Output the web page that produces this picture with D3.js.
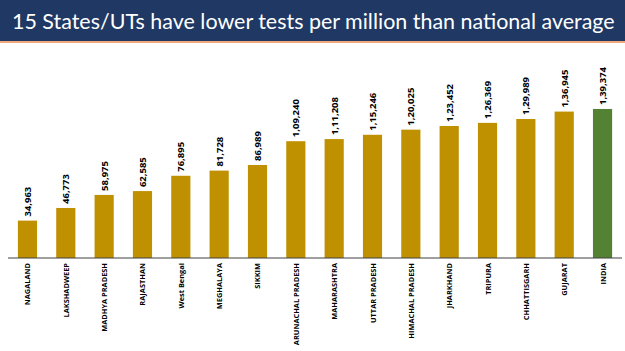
<!DOCTYPE html>
<html><head><meta charset="utf-8">
<script src="https://cdn.jsdelivr.net/npm/d3@7"></script>
<style>html,body{margin:0;padding:0;background:#fff;}svg{display:block;}</style>
</head><body>
<script>
const categories = ["NAGALAND","LAKSHADWEEP","MADHYA PRADESH","RAJASTHAN","West Bengal","MEGHALAYA","SIKKIM","ARUNACHAL PRADESH","MAHARASHTRA","UTTAR PRADESH","HIMACHAL PRADESH","JHARKHAND","TRIPURA","CHHATTISGARH","GUJARAT","INDIA"];
const values = [34963,46773,58975,62585,76895,81728,86989,109240,111208,115246,120025,123452,126369,129989,136945,139374];
const valueLabels = ["34,963","46,773","58,975","62,585","76,895","81,728","86,989","1,09,240","1,11,208","1,15,246","1,20,025","1,23,452","1,26,369","1,29,989","1,36,945","1,39,374"];
const title = "15 States/UTs have lower tests per million than national average";

const W = 625, H = 351;
const svg = d3.select("body").append("svg").attr("width", W).attr("height", H);

// title bar
svg.append("rect").attr("x",0).attr("y",0).attr("width",W).attr("height",41).attr("fill","#1f3864");
svg.append("rect").attr("x",0).attr("y",41).attr("width",W).attr("height",2).attr("fill","#f0a77a");
const t = svg.append("text").attr("x",12).attr("y",29).attr("fill","#fff")
  .attr("font-family","Lato, 'Open Sans', sans-serif").attr("font-size",22.5).text(title);
const natural = t.node().getComputedTextLength();
if (natural > 603) t.attr("font-size", 22.5 * 603 / natural);

const baseY = 258;
const x = d3.scaleBand().domain(categories).range([8.3, 621.7]).paddingInner(0.5).paddingOuter(0.25);
const y = d3.scaleLinear().domain([0, 140000]).range([baseY, 108.3]);

const g = svg.append("g");
g.selectAll("rect.bar").data(categories).join("rect").attr("class","bar")
  .attr("x", d => x(d)).attr("width", x.bandwidth())
  .attr("y", (d,i) => y(values[i])).attr("height", (d,i) => baseY - y(values[i]))
  .attr("fill", d => d === "INDIA" ? "#548235" : "#bf9000");

// axis line
const axis = d3.axisBottom(x).tickSize(0).tickFormat("");
const ax = svg.append("g").attr("transform", `translate(0,${baseY})`).call(axis);
ax.select(".domain").attr("stroke","#404040").attr("stroke-width",1.2).attr("d","M8,0H622");

// value labels
g.selectAll("text.val").data(categories).join("text").attr("class","val")
  .attr("transform", (d,i) => `translate(${x(d)+x.bandwidth()/2+3.5},${y(values[i])-4}) rotate(-90)`)
  .attr("font-family","'Open Sans', sans-serif").attr("font-weight","bold").attr("font-size",9.5)
  .attr("fill","#000").text((d,i) => valueLabels[i]);

// category labels
g.selectAll("text.cat").data(categories).join("text").attr("class","cat")
  .attr("transform", d => `translate(${x(d)+x.bandwidth()/2+3},${baseY+5}) rotate(-90)`)
  .attr("text-anchor","end")
  .attr("font-family","'Open Sans', sans-serif").attr("font-weight","bold").attr("font-size",7.4)
  .attr("fill","#000").text(d => d);
</script>
</body></html>
